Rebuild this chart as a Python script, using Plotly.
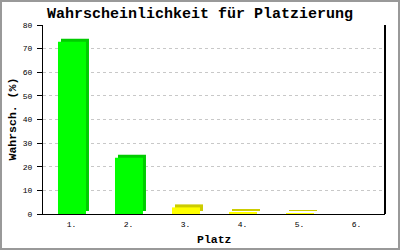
import plotly.graph_objects as go

# ---- data ----
categories = ["1.", "2.", "3.", "4.", "5.", "6."]
values = [72.9, 23.8, 2.8, 0.7, 0.3, 0.0]
y_ticks = [0, 10, 20, 30, 40, 50, 60, 70, 80]
title_text = "Wahrscheinlichkeit für Platzierung"
x_title = "Platz"
y_title = "Wahrsch. (%)"

# ---- styling ----
W, H = 400, 250
L, R, T, B = 43, 15, 25, 36
plot_w = W - L - R
plot_h = H - T - B
y_max = 80
depth_px = 3
dx = depth_px / (plot_w / len(categories))
dy = depth_px * y_max / plot_h

front_cols = ["#00ff00" if v >= 10 else "#ffff00" for v in values]
dark_cols = ["#00cc00" if v >= 10 else "#cccc00" for v in values]

bar_off = -0.237
bar_w = 0.491
mono = "Liberation Mono"

fig = go.Figure()
# 3D back (side + top)
fig.add_trace(go.Bar(
    x=categories, y=values, base=[dy] * len(values),
    offset=bar_off + dx, width=bar_w,
    marker=dict(color=dark_cols, line=dict(width=0)),
    hoverinfo="skip", showlegend=False,
))
# front face
fig.add_trace(go.Bar(
    x=categories, y=values,
    offset=bar_off, width=bar_w,
    marker=dict(color=front_cols, line=dict(width=0)),
    showlegend=False,
))

fig.update_layout(
    width=W, height=H,
    margin=dict(l=L, r=R, t=T, b=B, pad=0),
    paper_bgcolor="white", plot_bgcolor="white",
    barmode="overlay",
    title=dict(text=title_text, x=0.5, xanchor="center", xref="container",
               y=1 - 13 / H, yanchor="middle", yref="container",
               font=dict(family=mono, size=15, color="black", weight="bold")),
    xaxis=dict(
        type="category", range=[-0.5, len(categories) - 0.5],
        showline=True, linecolor="black", linewidth=1,
        showgrid=False, zeroline=False, ticks="",
        tickfont=dict(family=mono, size=8, color="black"),
        ticklabelstandoff=2,
    ),
    yaxis=dict(
        range=[0, y_max], tickvals=y_ticks, ticktext=[str(t) for t in y_ticks],
        showline=True, linecolor="black", linewidth=1,
        showgrid=True, gridcolor="#c8c8c8", griddash="3px,3px", gridwidth=1,
        zeroline=False, ticks="outside", ticklen=5, tickcolor="black",
        tickfont=dict(family=mono, size=8, color="black"),
        ticklabelstandoff=3,
    ),
    annotations=[
        dict(text=y_title, x=0, y=0.5, xref="paper", yref="paper",
             xanchor="center", yanchor="middle", xshift=12 - L, textangle=-90,
             showarrow=False,
             font=dict(family=mono, size=11.5, color="black", weight="bold")),
        dict(text=x_title, x=0.5, y=0, xref="paper", yref="paper",
             xanchor="center", yanchor="middle", yshift=-(239 - (H - B)),
             showarrow=False,
             font=dict(family=mono, size=11.5, color="black", weight="bold")),
    ],
    shapes=[
        dict(type="line", xref="paper", yref="paper", x0=1, x1=1, y0=0, y1=1,
             line=dict(color="black", width=2)),
        dict(type="rect", xref="paper", yref="paper",
             x0=(1 - L) / plot_w, x1=(W - 1 - L) / plot_w,
             y0=-(B - 1) / plot_h, y1=(plot_h + T - 1) / plot_h,
             line=dict(color="#999999", width=2), layer="above"),
    ],
)

fig.write_html("out.html")
